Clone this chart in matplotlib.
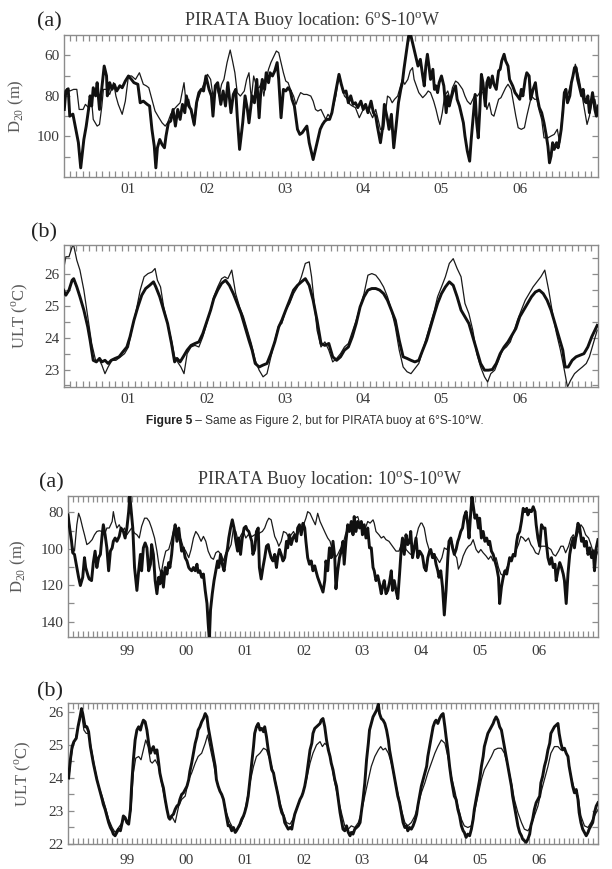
import numpy as np
import matplotlib
matplotlib.use("Agg")
import matplotlib.pyplot as plt
from matplotlib.ticker import FixedLocator, NullFormatter
from matplotlib.text import Annotation
from matplotlib import font_manager as fm

# ---------------- DATA ----------------
# Panel 1 (6S-10W) D20: thick = buoy, thin = second series
t_d20_6s_thick = [
 2000.18, 2000.20, 2000.23, 2000.25, 2000.29, 2000.32, 2000.36, 2000.39, 2000.43, 2000.46,
 2000.49, 2000.51, 2000.53, 2000.55, 2000.58, 2000.60, 2000.63, 2000.66, 2000.69, 2000.72,
 2000.73, 2000.76, 2000.79, 2000.82, 2000.85, 2000.89, 2000.92, 2000.96, 2001.00, 2001.04,
 2001.07, 2001.12, 2001.15, 2001.19, 2001.24, 2001.27, 2001.30, 2001.33, 2001.35, 2001.37,
 2001.40, 2001.43, 2001.46, 2001.48, 2001.51, 2001.54, 2001.57, 2001.60, 2001.63, 2001.66,
 2001.69, 2001.72, 2001.74, 2001.77, 2001.80, 2001.84, 2001.87, 2001.90, 2001.93, 2001.96,
 2001.99, 2002.03, 2002.06, 2002.08, 2002.11, 2002.14, 2002.18, 2002.21, 2002.24, 2002.27,
 2002.31, 2002.34, 2002.37, 2002.39, 2002.42,
 2002.46, 2002.49, 2002.52, 2002.54, 2002.56, 2002.58, 2002.61, 2002.64, 2002.67, 2002.69,
 2002.71, 2002.74, 2002.76, 2002.79, 2002.81, 2002.84, 2002.87, 2002.90, 2002.92, 2002.95,
 2002.98, 2003.01, 2003.04, 2003.07, 2003.09, 2003.12, 2003.16, 2003.19, 2003.22, 2003.25,
 2003.28, 2003.31, 2003.34, 2003.36, 2003.39, 2003.42, 2003.45, 2003.48, 2003.51, 2003.54,
 2003.57, 2003.60, 2003.63, 2003.67, 2003.69, 2003.72, 2003.75, 2003.78, 2003.81, 2003.84,
 2003.87, 2003.90, 2003.93, 2003.97, 2004.00, 2004.03, 2004.06, 2004.10, 2004.13, 2004.16,
 2004.18, 2004.22, 2004.25, 2004.27, 2004.31, 2004.33, 2004.36, 2004.39, 2004.42, 2004.45,
 2004.48, 2004.50, 2004.52, 2004.55, 2004.58, 2004.61, 2004.64, 2004.67, 2004.70, 2004.73,
 2004.76, 2004.78, 2004.80, 2004.82, 2004.84, 2004.86, 2004.89, 2004.91, 2004.93, 2004.95,
 2004.97, 2005.00, 2005.03, 2005.06, 2005.08, 2005.10, 2005.12, 2005.15, 2005.18, 2005.20,
 2005.23, 2005.25, 2005.28, 2005.30, 2005.33, 2005.36, 2005.38, 2005.41, 2005.43, 2005.45,
 2005.47, 2005.49, 2005.51, 2005.53, 2005.56, 2005.58, 2005.60, 2005.62, 2005.65, 2005.67,
 2005.70, 2005.73, 2005.75, 2005.77, 2005.80, 2005.82, 2005.85, 2005.87, 2005.89, 2005.91,
 2005.94, 2005.97, 2006.00, 2006.02, 2006.04, 2006.07, 2006.09, 2006.12, 2006.14, 2006.17,
 2006.20, 2006.22, 2006.25, 2006.28, 2006.31, 2006.34, 2006.36, 2006.38, 2006.40, 2006.42,
 2006.44, 2006.47, 2006.49, 2006.51, 2006.53, 2006.55, 2006.57, 2006.59, 2006.61, 2006.64,
 2006.66, 2006.68, 2006.70, 2006.72, 2006.74, 2006.76, 2006.79, 2006.81, 2006.83, 2006.85,
 2006.87, 2006.89, 2006.91, 2006.93, 2006.96, 2006.98, 2007.00]
d20_6s_thick = [
 86.7, 77.6, 76.5, 90, 89, 95, 103, 115.5, 101.5, 95,
 86.7, 80, 85, 76, 80, 73.5, 86.7, 76, 65.3, 70.2,
 80, 73.5, 76.8, 74.3, 77.6, 75, 76, 72.7, 70.2, 72,
 73.5, 74.3, 83.4, 82.6, 84.2, 85, 96.5, 104.8, 115.5, 105.6,
 101.5, 104, 105.6, 99.8, 93.3, 92.4, 86.7, 94.9, 86.7, 91.6,
 84.2, 88.3, 80, 85, 86.7, 94.1, 83.4, 78.4, 76.8, 77.6,
 70.2, 76.8, 80, 90, 75, 73.5, 84.2, 77.6, 85, 73.5,
 88.3, 79.3, 76.8, 90, 106.4,
 93.3, 80, 86.7, 93.3, 86.7, 80, 83.4, 71.9, 90.8, 78.4,
 71.9, 76.8, 68.6, 73.5, 68.6, 70.2, 67.7, 63.6, 71.9, 90.8,
 76.8, 77.6, 76, 77.6, 81.7, 85, 96.5, 99, 98.2, 96.5,
 94.9, 103.1, 108.1, 111.4, 106.4, 101.5, 96.5, 94.1, 92.4, 91.6,
 91.6, 88.3, 81.7, 73.5, 69.4, 74.3, 78.4, 77.6, 83.4, 80,
 84.2, 83.4, 85.8, 82.6, 86.7, 84.2, 88.3, 82.6, 88.3, 90,
 94.9, 103.1, 94.9, 84.2, 91.6, 96.5, 89.1, 105.6, 94.9, 83.4,
 76.8, 73.5, 66.9, 58.7, 50.5, 50.5, 55.4, 60.3, 65.3, 62,
 70.2, 75.1, 65.3, 59.5, 65.3, 71.9, 66.9, 76.8, 75.1, 78.4,
 73.5, 70.2, 75.1, 88.3, 80, 85, 81.7, 77.6, 75.1, 81.7,
 85, 88.3, 93.3, 99.8, 107.2, 112.2, 101.5, 88.3, 79.3, 93.3,
 100.7, 86.7, 69.4, 73.5, 85, 73.5, 71, 75.9, 70.2, 74.3,
 76.8, 67.7, 66.9, 62.8, 59.5, 62.8, 65.3, 71.9, 73.5, 75.1,
 78.4, 80, 81.7, 76.8, 80, 71.9, 68.6, 70.2, 81.7, 76.8,
 73.5, 80, 85.8, 88.3, 93.3, 99.8, 104.8, 113, 109.7, 103.1,
 106.4, 103.1, 105.6, 101.5, 96.5, 88.3, 78.4, 76.8, 83.4, 80,
 73.5, 70.2, 66.1, 66.1, 71.9, 75.1, 80, 76.8, 82.6, 83.4,
 80, 88.3, 83.4, 78.4, 86.7, 90, 85]

t_d20_6s_thin = [
 2000.18, 2000.21, 2000.25, 2000.30, 2000.34, 2000.37, 2000.42, 2000.45, 2000.49, 2000.53,
 2000.55, 2000.60, 2000.63, 2000.66, 2000.68, 2000.72, 2000.76, 2000.81, 2000.84, 2000.87,
 2000.92, 2000.96, 2001.00, 2001.04, 2001.09, 2001.14, 2001.19, 2001.23, 2001.26, 2001.30,
 2001.34, 2001.39, 2001.43, 2001.47, 2001.50, 2001.54, 2001.58, 2001.62, 2001.66, 2001.71,
 2001.74, 2001.77, 2001.80, 2001.84, 2001.88, 2001.92, 2001.96, 2002.01, 2002.05, 2002.08,
 2002.12, 2002.16, 2002.19, 2002.22, 2002.26, 2002.30, 2002.33, 2002.36, 2002.39, 2002.43,
 2002.48, 2002.51, 2002.54, 2002.57, 2002.60, 2002.64, 2002.67, 2002.70, 2002.73, 2002.76,
 2002.79, 2002.82, 2002.86, 2002.89, 2002.92, 2002.95, 2002.98, 2003.01, 2003.04, 2003.07,
 2003.11, 2003.14, 2003.17, 2003.20, 2003.24, 2003.28, 2003.33, 2003.36, 2003.39, 2003.42,
 2003.46, 2003.49, 2003.52, 2003.55, 2003.58, 2003.62, 2003.65, 2003.68, 2003.70, 2003.73,
 2003.76, 2003.80, 2003.83, 2003.86, 2003.90, 2003.95, 2003.99, 2004.03, 2004.07, 2004.12,
 2004.16, 2004.19, 2004.22, 2004.26, 2004.29, 2004.31, 2004.34, 2004.37, 2004.40, 2004.44,
 2004.47, 2004.50, 2004.53, 2004.57, 2004.60, 2004.63, 2004.65, 2004.68, 2004.71, 2004.76,
 2004.80, 2004.83, 2004.86, 2004.90, 2004.93, 2004.96, 2004.98, 2005.01, 2005.04, 2005.08,
 2005.11, 2005.14, 2005.18, 2005.21, 2005.24, 2005.27, 2005.30, 2005.33, 2005.37, 2005.40,
 2005.43, 2005.46, 2005.50, 2005.53, 2005.56, 2005.58, 2005.61, 2005.64, 2005.67, 2005.70,
 2005.73, 2005.76, 2005.79, 2005.82, 2005.85, 2005.89, 2005.92, 2005.95, 2005.98, 2006.02,
 2006.06, 2006.09, 2006.12, 2006.15, 2006.19, 2006.22, 2006.25, 2006.28, 2006.31, 2006.36,
 2006.40, 2006.44, 2006.48, 2006.51, 2006.53, 2006.56, 2006.59, 2006.61, 2006.65, 2006.68,
 2006.71, 2006.73, 2006.76, 2006.79, 2006.83, 2006.86, 2006.89, 2006.92, 2006.96, 2006.99]
d20_6s_thin = [
 80.1, 76.5, 77.6, 76.8, 76.8, 86.7, 86.7, 84.2, 85.8, 82.6,
 91.6, 94.9, 94.1, 85, 76.8, 76.8, 79.3, 73.5, 80.1, 84.2,
 89.1, 82.6, 70.2, 70.2, 71.9, 68.6, 74.3, 75.1, 76, 81.7,
 87.5, 90.8, 93.3, 94.9, 93.3, 89.1, 86.7, 85, 83.4, 73.5,
 85, 81.7, 87.5, 94.9, 82.6, 78.4, 74.3, 69.4, 71.9, 80.1,
 75.1, 80.1, 74.3, 71.9, 63.6, 57.4, 62.8, 68.6, 78.4, 80.1,
 77.6, 71.9, 68.6, 81.7, 70.2, 76, 76, 73.5, 80.1, 71.9,
 66.9, 63.6, 60.3, 57.9, 58.7, 63.6, 68.6, 72.7, 73.5, 76.8,
 80.1, 84.2, 80.9, 78.4, 79.3, 79.3, 80.1, 82.6, 86.7, 87.5,
 86.7, 89.1, 91.6, 89.1, 90.8, 85, 80.1, 71.9, 70.2, 76,
 80.1, 81.7, 84.2, 85, 85.8, 90.8, 87.5, 85, 86.7, 90.8,
 86.7, 91.6, 96.5, 96.5, 86.7, 80.1, 80.9, 83.4, 81.7, 80.1,
 76, 71.9, 74.3, 71.9, 67.7, 66.1, 71.9, 75.1, 78.4, 80.9,
 79.3, 77.6, 78.4, 82.6, 86.7, 91.6, 94.1, 88.3, 80.1, 77.6,
 81.7, 76, 72.7, 73.5, 75.1, 76.8, 80.1, 82.6, 84.2, 81.7,
 79.3, 80.1, 77.6, 78.4, 83.4, 86.7, 83.4, 89.1, 90, 85.8,
 81.7, 80.9, 78.4, 76, 74.3, 76.8, 83.4, 90, 95.7, 96.5,
 95.7, 90, 85, 80.1, 81.7, 81.7, 87.5, 91.6, 100.7, 100.7,
 99.8, 99, 96.5, 103.1, 94.9, 81.7, 78.4, 80.1, 74.3, 70.2,
 64.4, 66.9, 71.9, 78.4, 87.5, 94.1, 90, 83.4, 81.7, 88.3]

# Panel 2 (6S-10W) ULT
t_ult_6s_thick = [
 2000.17, 2000.20, 2000.24, 2000.28, 2000.30, 2000.34, 2000.38, 2000.43, 2000.48, 2000.51,
 2000.55, 2000.59, 2000.63, 2000.66, 2000.70, 2000.74, 2000.78, 2000.83, 2000.88, 2000.93,
 2000.98, 2001.02, 2001.07, 2001.12, 2001.17, 2001.22, 2001.27, 2001.32, 2001.35, 2001.40,
 2001.45, 2001.50, 2001.55, 2001.59, 2001.62, 2001.66, 2001.70, 2001.75, 2001.80, 2001.85,
 2001.90, 2001.95, 2002.00, 2002.05, 2002.09, 2002.14, 2002.19, 2002.24, 2002.29, 2002.34,
 2002.39, 2002.44, 2002.49, 2002.54, 2002.58, 2002.62, 2002.67, 2002.72, 2002.77, 2002.82,
 2002.87, 2002.92, 2002.96, 2003.01, 2003.06, 2003.11, 2003.16, 2003.21, 2003.26, 2003.31,
 2003.36, 2003.41, 2003.46, 2003.51, 2003.56, 2003.61, 2003.66, 2003.71, 2003.76, 2003.81,
 2003.86, 2003.91, 2003.96, 2004.01, 2004.06, 2004.11, 2004.16, 2004.21, 2004.26, 2004.31,
 2004.36, 2004.41, 2004.46, 2004.51, 2004.56, 2004.61, 2004.66, 2004.71, 2004.76, 2004.81,
 2004.86, 2004.91, 2004.95, 2005.00, 2005.05, 2005.10, 2005.15, 2005.20, 2005.25, 2005.30,
 2005.35, 2005.40, 2005.45, 2005.50, 2005.55, 2005.60, 2005.65, 2005.70, 2005.75, 2005.80,
 2005.85, 2005.90, 2005.95, 2006.00, 2006.05, 2006.10, 2006.15, 2006.20, 2006.25, 2006.30,
 2006.35, 2006.40, 2006.45, 2006.50, 2006.55, 2006.58, 2006.62, 2006.67, 2006.72, 2006.77,
 2006.82, 2006.87, 2006.92, 2006.97, 2006.99]
ult_6s_thick = [
 25.5, 25.34, 25.5, 25.81, 25.86, 25.6, 25.29, 24.87, 24.34, 23.92,
 23.29, 23.24, 23.35, 23.24, 23.29, 23.19, 23.29, 23.35, 23.4, 23.56,
 23.71, 24.03, 24.55, 24.97, 25.34, 25.55, 25.65, 25.76, 25.6, 25.29,
 24.87, 24.45, 23.82, 23.24, 23.35, 23.24, 23.4, 23.61, 23.76, 23.82,
 23.87, 24.13, 24.5, 24.87, 25.23, 25.5, 25.71, 25.81, 25.65, 25.39,
 25.08, 24.76, 24.34, 23.92, 23.61, 23.19, 23.08, 23.14, 23.19, 23.5,
 23.87, 24.34, 24.55, 24.87, 25.18, 25.5, 25.65, 25.76, 25.86, 25.65,
 25.18, 24.55, 23.82, 23.76, 23.82, 23.4, 23.29, 23.4, 23.61, 23.71,
 24.03, 24.45, 24.97, 25.29, 25.5, 25.55, 25.55, 25.5, 25.39, 25.18,
 24.87, 24.55, 23.92, 23.4, 23.35, 23.29, 23.24, 23.29, 23.61, 23.92,
 24.34, 24.76, 25.08, 25.39, 25.6, 25.76, 25.65, 25.29, 24.87, 24.66,
 24.45, 24.03, 23.61, 23.19, 22.98, 22.98, 23.0, 23.19, 23.5, 23.71,
 23.87, 24.08, 24.29, 24.66, 24.87, 25.08, 25.29, 25.44, 25.5, 25.39,
 25.18, 24.87, 24.45, 24.03, 23.61, 23.08, 23.08, 23.29, 23.4, 23.45,
 23.5, 23.71, 24.03, 24.29, 24.39]

t_ult_6s_thin = [
 2000.17, 2000.20, 2000.24, 2000.28, 2000.30, 2000.34, 2000.38, 2000.43, 2000.48, 2000.53,
 2000.58, 2000.63, 2000.66, 2000.70, 2000.74, 2000.79, 2000.84, 2000.90, 2000.95, 2001.00,
 2001.05, 2001.10, 2001.15, 2001.20, 2001.25, 2001.30, 2001.34, 2001.37, 2001.41, 2001.45,
 2001.50, 2001.55, 2001.59, 2001.64, 2001.67, 2001.71, 2001.75, 2001.80, 2001.85, 2001.90,
 2001.95, 2002.00, 2002.05, 2002.09, 2002.14, 2002.19, 2002.23, 2002.27, 2002.32, 2002.37,
 2002.42, 2002.47, 2002.52, 2002.57, 2002.62, 2002.67, 2002.72, 2002.77, 2002.82, 2002.87,
 2002.92, 2002.96, 2003.01, 2003.06, 2003.11, 2003.16, 2003.21, 2003.26, 2003.31, 2003.34,
 2003.38, 2003.41, 2003.46, 2003.51, 2003.56, 2003.61, 2003.66, 2003.71, 2003.76, 2003.81,
 2003.86, 2003.91, 2003.96, 2004.01, 2004.06, 2004.11, 2004.16, 2004.21, 2004.26, 2004.31,
 2004.36, 2004.41, 2004.46, 2004.51, 2004.56, 2004.61, 2004.66, 2004.71, 2004.76, 2004.81,
 2004.86, 2004.91, 2004.95, 2005.00, 2005.05, 2005.10, 2005.15, 2005.20, 2005.25, 2005.30,
 2005.35, 2005.40, 2005.45, 2005.50, 2005.55, 2005.59, 2005.63, 2005.68, 2005.73, 2005.78,
 2005.83, 2005.88, 2005.93, 2005.97, 2006.02, 2006.07, 2006.12, 2006.17, 2006.22, 2006.27,
 2006.32, 2006.37, 2006.42, 2006.47, 2006.52, 2006.57, 2006.61, 2006.65, 2006.70, 2006.75,
 2006.80, 2006.85, 2006.89, 2006.94, 2006.99]
ult_6s_thin = [
 26.13, 26.55, 26.55, 26.86, 26.91, 26.44, 26.13, 25.5, 24.66, 23.82,
 23.29, 23.29, 23.14, 22.87, 23.08, 23.29, 23.29, 23.4, 23.5, 23.71,
 24.34, 24.87, 25.5, 25.92, 26.02, 26.07, 26.18, 25.81, 25.6, 24.97,
 24.45, 23.92, 23.4, 23.19, 23.08, 22.87, 23.5, 23.71, 23.76, 23.71,
 24.03, 24.45, 24.87, 25.29, 25.6, 25.86, 25.92, 25.86, 26.13, 25.39,
 24.97, 24.66, 24.24, 23.82, 23.29, 22.98, 22.77, 22.87, 23.4, 23.92,
 24.39, 24.45, 24.87, 25.08, 25.39, 25.6, 25.92, 26.34, 26.39, 25.92,
 24.97, 24.24, 23.71, 23.87, 23.61, 23.24, 23.35, 23.5, 23.71, 23.82,
 24.18, 24.55, 24.97, 25.39, 25.97, 26.02, 25.97, 25.81, 25.6, 25.29,
 24.87, 24.34, 23.61, 23.08, 22.93, 22.87, 23.03, 23.19, 23.61, 24.03,
 24.45, 24.87, 25.29, 25.6, 25.92, 26.34, 26.49, 26.18, 25.92, 25.08,
 24.76, 24.24, 23.5, 23.08, 22.77, 22.61, 22.87, 22.98, 23.29, 23.61,
 23.71, 23.87, 24.24, 24.55, 24.87, 25.18, 25.39, 25.6, 25.76, 25.92,
 26.13, 25.5, 24.76, 24.13, 23.61, 22.98, 22.45, 22.66, 22.87, 22.98,
 23.08, 23.19, 23.4, 23.82, 24.24]

# Panel 3 (10S-10W) D20
t_d20_10s_thick = [
 1998.00, 1998.02, 1998.06, 1998.08, 1998.11, 1998.15, 1998.18, 1998.21, 1998.25, 1998.28,
 1998.30, 1998.34, 1998.36, 1998.40, 1998.43, 1998.46, 1998.49, 1998.52, 1998.55, 1998.58,
 1998.60, 1998.63, 1998.66, 1998.69, 1998.72, 1998.75, 1998.77, 1998.80, 1998.83, 1998.87,
 1998.90, 1998.94, 1998.97, 1999.00, 1999.03, 1999.05, 1999.07, 1999.10, 1999.13, 1999.17,
 1999.20, 1999.23, 1999.25, 1999.28, 1999.31, 1999.34, 1999.37, 1999.40, 1999.42, 1999.45,
 1999.48, 1999.51, 1999.54, 1999.56, 1999.59, 1999.62, 1999.65, 1999.68, 1999.71, 1999.73,
 1999.76, 1999.79, 1999.82, 1999.85, 1999.88, 1999.90, 1999.93, 1999.96, 1999.99, 2000.02,
 2000.05, 2000.07, 2000.10, 2000.13, 2000.16, 2000.19, 2000.21, 2000.24, 2000.27, 2000.30,
 2000.33, 2000.36, 2000.38, 2000.40, 2000.42, 2000.45, 2000.48, 2000.51, 2000.54, 2000.56,
 2000.59, 2000.62, 2000.65, 2000.68, 2000.71, 2000.73, 2000.76, 2000.79, 2000.82, 2000.85,
 2000.88, 2000.90, 2000.93, 2000.96, 2000.99, 2001.02, 2001.04, 2001.07, 2001.12,
 2001.14, 2001.17, 2001.20, 2001.23, 2001.25, 2001.28, 2001.31, 2001.34, 2001.37, 2001.40,
 2001.42, 2001.45, 2001.48, 2001.51, 2001.54, 2001.56, 2001.59, 2001.62, 2001.65, 2001.68,
 2001.71, 2001.73, 2001.76, 2001.79, 2001.82, 2001.85, 2001.88, 2001.90, 2001.93, 2001.96,
 2001.99, 2002.02, 2002.04, 2002.07, 2002.10, 2002.13, 2002.16, 2002.19, 2002.21, 2002.24,
 2002.27, 2002.30, 2002.33, 2002.36, 2002.38, 2002.41, 2002.44, 2002.47, 2002.50, 2002.53,
 2002.55, 2002.58, 2002.61, 2002.64, 2002.67, 2002.69, 2002.72, 2002.75, 2002.78, 2002.81,
 2002.84, 2002.86, 2002.89, 2002.92, 2002.95, 2002.98, 2003.00, 2003.03, 2003.06, 2003.09,
 2003.12, 2003.15, 2003.18, 2003.20, 2003.23, 2003.26, 2003.29, 2003.32, 2003.34, 2003.37,
 2003.40, 2003.43, 2003.46, 2003.49, 2003.51, 2003.54, 2003.57, 2003.60, 2003.63, 2003.66,
 2003.68, 2003.71, 2003.74, 2003.77, 2003.80, 2003.82, 2003.85, 2003.88, 2003.91, 2003.94,
 2003.97,
 2003.99, 2004.02, 2004.05, 2004.08, 2004.11, 2004.14, 2004.16, 2004.19, 2004.22, 2004.25,
 2004.28, 2004.30, 2004.33, 2004.36, 2004.39, 2004.42, 2004.45, 2004.47, 2004.50, 2004.53,
 2004.56, 2004.59, 2004.62, 2004.64, 2004.67, 2004.70, 2004.73, 2004.76, 2004.79, 2004.81,
 2004.84, 2004.86, 2004.88, 2004.91, 2004.94, 2004.97, 2004.99, 2005.02, 2005.05, 2005.08,
 2005.11, 2005.14, 2005.16, 2005.19, 2005.22, 2005.25, 2005.28, 2005.31, 2005.33, 2005.36,
 2005.39, 2005.42, 2005.45, 2005.47, 2005.50, 2005.53, 2005.56, 2005.59, 2005.62, 2005.64,
 2005.67, 2005.70, 2005.73, 2005.76, 2005.79, 2005.81, 2005.84, 2005.87, 2005.90, 2005.93,
 2005.95, 2005.98, 2006.01, 2006.04, 2006.07, 2006.10, 2006.12, 2006.15, 2006.18, 2006.21,
 2006.24, 2006.27, 2006.29, 2006.32, 2006.35, 2006.38, 2006.41, 2006.43, 2006.46, 2006.49,
 2006.52, 2006.55, 2006.58, 2006.60, 2006.63, 2006.66, 2006.69, 2006.72, 2006.75, 2006.77,
 2006.80, 2006.83, 2006.86, 2006.89, 2006.92, 2006.94, 2006.97, 2007.00]
d20_10s_thick = [
 81.4, 86.8, 95.9, 102.2, 103.1, 110.3, 115.7, 120.2, 115.7, 104.9,
 110.3, 114.8, 116.6, 117.5, 107.6, 101.3, 110.3, 104.9, 103.1, 92.3,
 86.8, 92.3, 99.5, 112.1, 101.3, 99.5, 95.9, 94.1, 95.9, 93.2,
 88.6, 90.5, 94.1, 88.6, 79.6, 71, 77.8, 88.6, 110.3, 122.9,
 112.1, 103.1, 112.1, 99.5, 96.8, 99.5, 112.1, 108.5, 97.7, 103.1,
 117.5, 124.7, 115.7, 119.3, 112.1, 121.1, 110.3, 113.9, 107.6, 110.3,
 103.1, 92.3, 86.8, 95.9, 88.6, 94.1, 101.3, 99.5, 104.9, 106.7,
 110.3, 111.2, 112.1, 110.3, 112.1, 108.5, 113, 112.1, 115.7, 113.9,
 122.9, 130.1, 140.9, 150, 133.7, 124.7, 117.5, 112.1, 106.7, 110.3,
 103.1, 108.5, 112.1, 104.9, 99.5, 94.1, 88.6, 84.1, 88.6, 95.9,
 101.3, 94.1, 103.1, 94.1, 88.6, 87.7, 89.5, 90.5, 95.9,
 103.1, 100.4, 90.5, 88.6, 110.3, 116.6, 110.3, 104.9, 98.6, 97.7,
 101.3, 104.9, 106.7, 103.1, 110.3, 104.9, 100.4, 103.1, 106.7, 104.9,
 95.9, 99.5, 92.3, 97.7, 94.1, 92.3, 95.9, 88.6, 86.8, 92.3,
 86, 88.6, 95.9, 104.9, 108.5, 106.7, 112.1, 109.4, 112.1, 115.7,
 118.4, 121.1, 123.8, 117.5, 106.7, 112.1, 99.5, 104.9, 95.9, 104.9,
 122, 112.1, 104.9, 101.3, 95.9, 108.5, 95.9, 86.8, 90.5, 85,
 92.3, 82.3, 90.5, 85, 88.6, 85, 92.3, 86.8, 94.1, 88.6,
 99.5, 99.5, 110.3, 112.1, 117.5, 114.8, 119.3, 124.7, 121.1, 117.5,
 124.7, 122.9, 118.4, 112.1, 122.9, 117.5, 122.9, 127.4, 113.9, 99.5,
 94.1, 103.1, 92.3, 97.7, 95.9, 90.5, 104.9, 99.5, 94.1, 104.9,
 101.3,
 102.2, 104, 110.3, 112.1, 104.9, 101.3, 100.4, 104.9, 103.1, 108.5,
 112.1, 115.7, 112.1, 121.1, 136.4, 122.9, 104.9, 95.9, 94.1, 99.5,
 103.1, 100.4, 95.9, 94.1, 90.5, 88.6, 82.3, 79.6, 86.8, 94.1,
 79.6, 71.5, 76, 83.2, 81.4, 88.6, 83.2, 94.1, 90.5, 95.9,
 94.1, 97.7, 95.9, 101.3, 103.1, 106.7, 110.3, 115.7, 130.1, 121.1,
 115.7, 112.1, 113.9, 110.3, 104.9, 106.7, 103.1, 104, 95.9, 92.3,
 90.5, 85, 77.8, 79.6, 77.8, 81.4, 78.7, 79.6, 76.9, 79.6,
 86.8, 94.1, 98.6, 86.8, 88.6, 88.6, 95.9, 104.9, 108.5, 104.9,
 110.3, 108.5, 117.5, 112.1, 107.6, 110.3, 113.9, 117.5, 130.1, 113.9,
 103.1, 97.7, 94.1, 99.5, 92.3, 86, 88.6, 95.9, 94.1, 98.6,
 95.9, 103.1, 99.5, 104.9, 101.3, 112.1, 99.5, 95]

t_d20_10s_thin = [
 1998.00, 1998.04, 1998.08, 1998.11, 1998.15, 1998.18, 1998.21, 1998.25, 1998.28, 1998.32,
 1998.36, 1998.41, 1998.45, 1998.49, 1998.53, 1998.58, 1998.62, 1998.66, 1998.70, 1998.75,
 1998.77, 1998.80, 1998.83, 1998.87, 1998.92, 1998.96, 1999.00, 1999.04, 1999.08, 1999.13,
 1999.17, 1999.21, 1999.25, 1999.30, 1999.34, 1999.38, 1999.42, 1999.47, 1999.51, 1999.55,
 1999.58, 1999.62, 1999.66, 1999.71, 1999.75, 1999.79, 1999.83, 1999.88, 1999.92, 1999.96,
 2000.00, 2000.05, 2000.09, 2000.13, 2000.17, 2000.21, 2000.26, 2000.30, 2000.34, 2000.38,
 2000.43, 2000.47, 2000.51, 2000.55, 2000.60, 2000.64, 2000.68, 2000.72, 2000.77, 2000.81,
 2000.85, 2000.89, 2000.94, 2000.98, 2001.02, 2001.06, 2001.12,
 2001.13, 2001.17, 2001.21, 2001.25, 2001.30, 2001.34, 2001.38, 2001.41, 2001.45, 2001.48,
 2001.51, 2001.55, 2001.58, 2001.62, 2001.66, 2001.71, 2001.75, 2001.79, 2001.83, 2001.88,
 2001.92, 2001.96, 2002.00, 2002.04, 2002.07, 2002.11, 2002.16, 2002.20, 2002.24, 2002.28,
 2002.33, 2002.37, 2002.41, 2002.45, 2002.50, 2002.54, 2002.58, 2002.62, 2002.67, 2002.71,
 2002.75, 2002.79, 2002.84, 2002.88, 2002.92, 2002.96, 2003.00, 2003.05, 2003.09, 2003.13,
 2003.18, 2003.20, 2003.23, 2003.28, 2003.32, 2003.36, 2003.40, 2003.45, 2003.49, 2003.53,
 2003.57, 2003.62, 2003.66, 2003.69, 2003.74, 2003.79, 2003.82, 2003.86, 2003.91, 2003.95,
 2003.99,
 2004.01, 2004.05, 2004.09, 2004.14, 2004.18, 2004.22, 2004.26, 2004.31, 2004.35, 2004.39,
 2004.43, 2004.47, 2004.52, 2004.56, 2004.60, 2004.63, 2004.67, 2004.71, 2004.76, 2004.80,
 2004.84, 2004.88, 2004.93, 2004.97, 2005.01, 2005.05, 2005.10, 2005.14, 2005.18, 2005.22,
 2005.27, 2005.31, 2005.35, 2005.39, 2005.44, 2005.48, 2005.52, 2005.56, 2005.60, 2005.65,
 2005.69, 2005.73, 2005.77, 2005.82, 2005.86, 2005.90, 2005.94, 2005.99, 2006.03, 2006.07,
 2006.11, 2006.16, 2006.20, 2006.24, 2006.28, 2006.33, 2006.37, 2006.41, 2006.45, 2006.50,
 2006.54, 2006.58, 2006.62, 2006.67, 2006.71, 2006.75, 2006.79, 2006.84, 2006.88, 2006.92,
 2006.96, 2007.00]
d20_10s_thin = [
 79.6, 90.5, 99.5, 101.3, 86.8, 80.5, 83.2, 88.6, 92.3, 97.7,
 96.8, 95, 92.3, 90.5, 90.1, 90.5, 92.3, 88.6, 88.6, 85,
 79.6, 85, 88.6, 86.8, 90.5, 88.6, 92.3, 90.5, 88.6, 91.4,
 92.3, 94.1, 87.7, 83.2, 83.2, 85, 88.6, 94.1, 101.3, 110.3,
 113.9, 106.7, 101.3, 100.4, 95.9, 90.5, 88.6, 92.3, 95, 99.5,
 101.3, 104.9, 100.4, 94.1, 90.5, 92.3, 95.9, 93.2, 95.9, 101.3,
 104.9, 105.8, 102.2, 101.3, 103.1, 106.7, 102.2, 101.3, 97.7, 88.6,
 90.5, 95.9, 92.3, 90.5, 94.1, 92.3, 93.2,
 93.2, 92.3, 93.2, 91.4, 90.5, 88.6, 85, 83.2, 84.1, 88.6,
 93.2, 95.9, 98.6, 95.9, 90.5, 91.4, 94.1, 92.3, 90.5, 94.1,
 90.5, 88.6, 86.8, 83.2, 79.6, 80.5, 84.1, 86.8, 80.5, 85,
 88.6, 91.4, 94.1, 95.9, 102.2, 104.9, 103.1, 100.4, 97.7, 92.3,
 88.6, 86.8, 85.9, 83.2, 82.3, 86.8, 89.5, 88.6, 85, 85.9,
 84.1, 85.9, 90.5, 92.3, 94.1, 93.2, 95, 95.9, 97.7, 99.5,
 101.3, 101.3, 97.7, 95.9, 100.4, 102.2, 103.1, 102.2, 94.1, 88.6,
 85.9,
 85.9, 88.6, 95.9, 101.3, 102.2, 103.1, 104.9, 107.6, 104.9, 99.5,
 100.4, 97.7, 95.9, 103.1, 104.9, 111.2, 108.5, 104, 100.4, 98.6,
 97.7, 95, 100.4, 102.2, 100.4, 102.2, 104, 105.8, 104, 106.7,
 104.9, 110.3, 113.9, 114.8, 111.2, 108.5, 104.9, 104, 101.3, 97.7,
 93.2, 94.1, 95.9, 94.1, 97.7, 99.5, 102.2, 103.1, 98.6, 98.6,
 98.6, 99.5, 100.4, 103.1, 104, 101.3, 98.6, 98.6, 102.2, 98.6,
 94.1, 92.3, 95, 90.5, 86.8, 88.6, 92.3, 94.1, 97.7, 102.2,
 104.9, 101.3]

# Panel 4 (10S-10W) ULT
t_ult_10s_thick = [
 1998.01, 1998.04, 1998.07, 1998.10, 1998.14, 1998.17, 1998.21, 1998.23, 1998.25, 1998.27, 1998.29,
 1998.32, 1998.35, 1998.38, 1998.41, 1998.43, 1998.46, 1998.49, 1998.52, 1998.55, 1998.58,
 1998.60, 1998.63, 1998.66, 1998.69, 1998.72, 1998.75, 1998.77, 1998.80, 1998.83, 1998.86,
 1998.89, 1998.92, 1998.94, 1998.97, 1999.00, 1999.03, 1999.06, 1999.08, 1999.11, 1999.14,
 1999.17, 1999.20, 1999.23, 1999.25, 1999.28, 1999.31, 1999.34, 1999.37, 1999.40, 1999.42,
 1999.45, 1999.48, 1999.51, 1999.54, 1999.56, 1999.59, 1999.62, 1999.65, 1999.68, 1999.71,
 1999.73, 1999.76, 1999.79, 1999.82, 1999.85, 1999.88, 1999.90, 1999.93, 1999.96, 1999.99,
 2000.02, 2000.05, 2000.07, 2000.10, 2000.13, 2000.16, 2000.19, 2000.21, 2000.24, 2000.27,
 2000.30, 2000.33, 2000.36, 2000.38, 2000.41, 2000.44, 2000.47, 2000.50, 2000.52, 2000.55,
 2000.58, 2000.61, 2000.64, 2000.67, 2000.69, 2000.72, 2000.75, 2000.78, 2000.81, 2000.84,
 2000.86, 2000.89, 2000.92, 2000.95, 2000.98, 2001.00, 2001.03, 2001.06, 2001.09, 2001.12,
 2001.15, 2001.17, 2001.20, 2001.23, 2001.26, 2001.29, 2001.32, 2001.34, 2001.37, 2001.40,
 2001.43, 2001.46, 2001.49, 2001.51, 2001.54, 2001.57, 2001.60, 2001.63, 2001.66, 2001.68,
 2001.71, 2001.74, 2001.77, 2001.80, 2001.82, 2001.85, 2001.88, 2001.91, 2001.94, 2001.97,
 2001.99, 2002.02, 2002.05, 2002.08, 2002.11, 2002.14, 2002.16, 2002.19, 2002.22, 2002.25,
 2002.28, 2002.30, 2002.33, 2002.36, 2002.39, 2002.42, 2002.45, 2002.47,
 2002.50, 2002.53, 2002.56, 2002.59, 2002.62, 2002.65, 2002.67, 2002.70, 2002.73, 2002.76,
 2002.79, 2002.81, 2002.84, 2002.87, 2002.90, 2002.93, 2002.96, 2002.98, 2003.01, 2003.04,
 2003.07, 2003.10, 2003.12, 2003.15, 2003.18, 2003.21, 2003.24, 2003.27, 2003.29, 2003.32,
 2003.35, 2003.38, 2003.41, 2003.44, 2003.46, 2003.49, 2003.52, 2003.55, 2003.58, 2003.60,
 2003.63, 2003.66, 2003.69, 2003.72, 2003.75, 2003.77, 2003.80, 2003.83, 2003.86, 2003.89,
 2003.92, 2003.94, 2003.97, 2004.00, 2004.03, 2004.06, 2004.09, 2004.11, 2004.14, 2004.17,
 2004.20, 2004.23, 2004.25, 2004.28, 2004.31, 2004.34, 2004.37, 2004.40, 2004.42, 2004.45,
 2004.48, 2004.51, 2004.54, 2004.56, 2004.59, 2004.62, 2004.65, 2004.68, 2004.71, 2004.73,
 2004.76, 2004.79, 2004.82, 2004.85, 2004.88, 2004.90, 2004.93, 2004.96, 2004.99, 2005.02,
 2005.05, 2005.07, 2005.10, 2005.13, 2005.16, 2005.19, 2005.22, 2005.24, 2005.27, 2005.30,
 2005.33, 2005.36, 2005.38, 2005.41, 2005.44, 2005.47, 2005.50, 2005.53, 2005.55, 2005.58,
 2005.61, 2005.64, 2005.67, 2005.70, 2005.72, 2005.75, 2005.78, 2005.81, 2005.84, 2005.86,
 2005.89, 2005.92, 2005.95, 2005.98, 2006.01, 2006.03, 2006.06, 2006.09, 2006.12, 2006.15,
 2006.18, 2006.20, 2006.23, 2006.26, 2006.29, 2006.32, 2006.34, 2006.37, 2006.40, 2006.43,
 2006.46, 2006.49, 2006.51, 2006.54, 2006.57, 2006.60, 2006.63, 2006.66, 2006.68, 2006.71,
 2006.74, 2006.77, 2006.80, 2006.83, 2006.85, 2006.88, 2006.91, 2006.94, 2006.97, 2007.00]
ult_10s_thick = [
 24.0, 24.55, 24.95, 25.1, 25.2, 25.55, 25.9, 26.1, 25.95, 25.75, 25.55,
 25.55, 25.4, 24.95, 24.65, 24.45, 24.2, 23.95, 23.75, 23.55, 23.35,
 23.2, 23.05, 22.85, 22.65, 22.5, 22.4, 22.3, 22.25, 22.35, 22.45,
 22.4, 22.65, 22.85, 22.8, 22.65, 22.6, 23.05, 23.75, 24.55, 25.15,
 25.45, 25.55, 25.45, 25.6, 25.75, 25.7, 25.45, 25.05, 24.75, 24.85,
 24.95, 24.75, 24.85, 24.45, 24.15, 23.9, 23.7, 23.35, 23.05, 22.8,
 22.75, 22.85, 22.9, 23.05, 23.15, 23.2, 23.35, 23.5, 23.55, 23.65,
 23.75, 23.95, 24.2, 24.45, 24.75, 25.05, 25.25, 25.45, 25.55, 25.7,
 25.8, 25.95, 25.85, 25.55, 25.25, 24.95, 24.65, 24.35, 23.95, 23.75,
 23.6, 23.5, 23.35, 23.05, 22.85, 22.55, 22.55, 22.4, 22.5, 22.35,
 22.4, 22.5, 22.6, 22.75, 22.85, 22.95, 23.15, 23.45, 23.95, 24.45,
 24.95, 25.35, 25.55, 25.65, 25.45, 25.5, 25.4, 25.55, 25.25, 24.85,
 24.55, 24.25, 24.15, 23.95, 23.7, 23.45, 23.15, 22.95, 22.85, 22.65,
 22.55, 22.45, 22.5, 22.45, 22.65, 22.9, 23.05, 23.2, 23.35, 23.45,
 23.55, 23.75, 24.05, 24.45, 24.85, 25.05, 25.35, 25.5, 25.55, 25.6,
 25.65, 25.75, 25.8, 25.55, 25.15, 24.85, 24.65, 24.45,
 24.25, 23.95, 23.75, 23.35, 22.95, 22.65, 22.45, 22.4, 22.55, 22.35,
 22.25, 22.35, 22.3, 22.45, 22.5, 22.55, 22.65, 22.95, 23.35, 23.85,
 24.55, 25.05, 25.45, 25.65, 25.85, 25.95, 26.05, 26.23, 25.95, 25.8,
 25.75, 25.65, 25.45, 25.15, 24.85, 24.55, 24.25, 23.95, 23.65, 23.45,
 23.25, 22.95, 22.65, 22.5, 22.55, 22.4, 22.5, 22.45, 22.55, 22.7,
 22.9, 23.15, 23.45, 23.75, 23.95, 24.15, 24.35, 24.65, 24.95, 25.25,
 25.55, 25.7, 25.75, 25.65, 25.8, 25.9, 25.95, 25.55, 25.25, 24.85,
 24.35, 23.95, 23.65, 23.45, 23.35, 23.05, 22.85, 22.55, 22.4, 22.35,
 22.2, 22.3, 22.25, 22.45, 22.75, 23.05, 23.35, 23.65, 23.95, 24.35,
 24.65, 24.95, 25.15, 25.35, 25.45, 25.55, 25.65, 25.75, 25.85, 25.75,
 25.55, 25.45, 25.25, 24.95, 24.65, 24.35, 24.05, 23.75, 23.45, 23.15,
 22.85, 22.55, 22.35, 22.25, 22.15, 22.1, 22.05, 22.15, 22.3, 22.55,
 22.75, 23.05, 23.25, 23.35, 23.45, 23.85, 24.05, 24.35, 24.55, 24.85,
 25.05, 25.35, 25.45, 25.55, 25.6, 25.65, 25.35, 25.05, 24.85, 24.9,
 24.75, 24.65, 24.35, 24.05, 23.75, 23.55, 23.65, 23.35, 22.95, 22.65,
 22.45, 22.35, 22.25, 22.35, 22.45, 22.55, 22.65, 22.95, 23.15, 23.25]

t_ult_10s_thin = [
 1998.01, 1998.07, 1998.12, 1998.18, 1998.23, 1998.27, 1998.31, 1998.35, 1998.41, 1998.46,
 1998.52, 1998.58, 1998.63, 1998.69, 1998.75, 1998.80, 1998.86, 1998.92, 1998.97, 1999.03,
 1999.07, 1999.11, 1999.15, 1999.20, 1999.24, 1999.28, 1999.32, 1999.36, 1999.40, 1999.43,
 1999.48, 1999.54, 1999.59, 1999.65, 1999.71, 1999.76, 1999.82, 1999.88, 1999.93, 1999.99,
 2000.05, 2000.10, 2000.16, 2000.21, 2000.27, 2000.33, 2000.37, 2000.41, 2000.47, 2000.52,
 2000.58, 2000.64, 2000.69, 2000.75, 2000.81, 2000.86, 2000.92, 2000.98, 2001.03, 2001.09,
 2001.15, 2001.20, 2001.26, 2001.32, 2001.37, 2001.43, 2001.49, 2001.54, 2001.60, 2001.66,
 2001.71, 2001.77, 2001.82, 2001.88, 2001.94, 2001.99, 2002.05, 2002.11, 2002.16, 2002.22,
 2002.28, 2002.32, 2002.36, 2002.42, 2002.47,
 2002.53, 2002.59, 2002.65, 2002.70, 2002.76, 2002.81, 2002.87, 2002.93, 2002.98, 2003.04,
 2003.10, 2003.15, 2003.21, 2003.27, 2003.31, 2003.35, 2003.39, 2003.44, 2003.49, 2003.55,
 2003.60, 2003.66, 2003.72, 2003.77, 2003.83, 2003.89, 2003.94, 2004.00, 2004.06, 2004.11,
 2004.17, 2004.23, 2004.28, 2004.34, 2004.40, 2004.45, 2004.51, 2004.57, 2004.62, 2004.68,
 2004.73, 2004.79, 2004.85, 2004.90, 2004.96, 2005.02, 2005.07, 2005.13, 2005.19, 2005.24,
 2005.30, 2005.36, 2005.41, 2005.47, 2005.53, 2005.58, 2005.64, 2005.70, 2005.75, 2005.81,
 2005.86, 2005.92, 2005.98, 2006.03, 2006.09, 2006.15, 2006.20, 2006.26, 2006.32, 2006.37,
 2006.43, 2006.49, 2006.54, 2006.60, 2006.66, 2006.71, 2006.77, 2006.83, 2006.88, 2006.94,
 2007.00]
ult_10s_thin = [
 23.95, 24.85, 25.15, 25.6, 25.95, 25.45, 25.35, 25.35, 24.75, 24.25,
 23.75, 23.45, 23.15, 22.75, 22.5, 22.35, 22.5, 22.65, 22.8, 22.65,
 23.05, 24.15, 24.6, 24.65, 24.55, 24.85, 25.15, 24.95, 24.5, 24.45,
 24.55, 24.35, 23.85, 23.3, 22.8, 22.85, 22.65, 23.15, 23.35, 23.45,
 23.95, 24.15, 24.45, 24.65, 24.75, 25.05, 25.3, 24.95, 24.45, 23.95,
 23.6, 23.35, 22.95, 22.65, 22.45, 22.4, 22.55, 22.8, 23.25, 23.85,
 24.35, 24.65, 24.75, 24.9, 24.85, 24.55, 24.15, 23.75, 23.25, 22.9,
 22.65, 22.6, 22.75, 23.05, 23.35, 23.55, 23.95, 24.45, 24.75, 25.0,
 25.1, 24.95, 25.05, 24.95, 24.45,
 23.85, 23.35, 22.9, 22.55, 22.45, 22.55, 22.5, 22.65, 22.95, 23.45,
 23.95, 24.35, 24.65, 24.85, 24.95, 24.85, 24.9, 24.75, 24.45, 23.95,
 23.55, 23.05, 22.65, 22.55, 22.65, 22.85, 23.15, 23.55, 23.85, 24.15,
 24.45, 24.75, 24.95, 25.15, 25.05, 24.65, 24.05, 23.6, 23.15, 22.75,
 22.55, 22.5, 22.55, 22.95, 23.45, 23.95, 24.25, 24.45, 24.65, 24.85,
 24.9, 24.9, 24.75, 24.35, 23.85, 23.35, 22.95, 22.65, 22.45, 22.4,
 22.55, 22.85, 23.15, 23.55, 23.95, 24.35, 24.75, 24.95, 24.95, 24.85,
 24.85, 24.65, 24.05, 23.65, 23.45, 22.85, 22.55, 22.5, 22.65, 22.85,
 23.05]

years_top = [2001, 2002, 2003, 2004, 2005, 2006]
years_bottom = [1999, 2000, 2001, 2002, 2003, 2004, 2005, 2006]
year_labels_top = ["01", "02", "03", "04", "05", "06"]
year_labels_bottom = ["99", "00", "01", "02", "03", "04", "05", "06"]

# ---------------- STYLE ----------------
plt.rcParams['font.family'] = ['Liberation Serif', 'DejaVu Serif']
names = {f.name for f in fm.fontManager.ttflist}
cap_family = ['Liberation Sans Narrow', 'DejaVu Sans'] if 'Liberation Sans Narrow' in names else ['Liberation Sans', 'DejaVu Sans']
cap_size = 10 if 'Liberation Sans Narrow' in names else 8.6

FRAME = '#8c8c8c'
TXT = '#3a3a3a'
LBL = '#5a5a5a'
W, H = 612.0, 869.0

fig = plt.figure(figsize=(6.12, 8.69), dpi=100)


def make_ax(left, top, right, bottom):
    return fig.add_axes([left / W, 1 - bottom / H, (right - left) / W, (bottom - top) / H])


ax1 = make_ax(63.5, 35, 598, 177)
ax2 = make_ax(63.5, 245, 598, 387)
ax3 = make_ax(68, 496, 598, 637)
ax4 = make_ax(68, 703, 598, 844)


def style(ax, xlim, years, ylabels_tick, ymajor, yminor, ylim, ylabel, labx, padx):
    ax.set_xlim(*xlim)
    ax.set_ylim(*ylim)
    for s in ax.spines.values():
        s.set_color(FRAME)
        s.set_linewidth(1.0)
    ax.xaxis.set_major_locator(FixedLocator(years))
    ax.set_xticklabels(ylabels_tick)
    months = np.arange(np.floor(xlim[0]), xlim[1] + 1e-6, 1 / 12.0)
    months = [m for m in months if xlim[0] + 0.01 < m < xlim[1] - 0.01]
    ax.xaxis.set_minor_locator(FixedLocator(months))
    ax.yaxis.set_major_locator(FixedLocator(ymajor))
    ax.yaxis.set_minor_locator(FixedLocator(yminor))
    ax.tick_params(axis='both', which='both', direction='in', top=True, right=True,
                   color=FRAME, width=0.9, labelcolor=TXT, labelsize=11)
    ax.tick_params(axis='x', which='both', length=4.5, pad=padx)
    ax.tick_params(axis='y', which='both', length=4, pad=3)
    ax.set_ylabel(ylabel, fontsize=12, color=LBL)
    ax.yaxis.set_label_coords(labx, 0.5)


xl_top = (2000.17, 2007.0)
xl_bot = (1998.0, 2007.0)

ax1.plot(t_d20_6s_thin, d20_6s_thin, color='#1a1a1a', lw=0.9, zorder=2)
ax1.plot(t_d20_6s_thick, d20_6s_thick, color='#111111', lw=2.1, zorder=3)
style(ax1, xl_top, years_top, year_labels_top, [60, 80, 100], [70, 90, 110],
      (120, 50), r'D$_{\mathregular{20}}$ (m)', -0.07, 4)

ax2.plot(t_ult_6s_thin, ult_6s_thin, color='#1a1a1a', lw=0.9, zorder=2)
ax2.plot(t_ult_6s_thick, ult_6s_thick, color='#111111', lw=2.1, zorder=3)
style(ax2, xl_top, years_top, year_labels_top, [23, 24, 25, 26], [22.5, 23.5, 24.5, 25.5, 26.5],
      (22.45, 26.92), r'ULT ($^{\mathregular{o}}$C)', -0.062, 4)

ax3.plot(t_d20_10s_thin, d20_10s_thin, color='#1a1a1a', lw=0.9, zorder=2)
ax3.plot(t_d20_10s_thick, d20_10s_thick, color='#111111', lw=2.1, zorder=3)
style(ax3, xl_bot, years_bottom, year_labels_bottom, [80, 100, 120, 140], [90, 110, 130],
      (148.5, 71), r'D$_{\mathregular{20}}$ (m)', -0.076, 5.5)

ax4.plot(t_ult_10s_thin, ult_10s_thin, color='#1a1a1a', lw=0.9, zorder=2)
ax4.plot(t_ult_10s_thick, ult_10s_thick, color='#111111', lw=2.1, zorder=3)
style(ax4, xl_bot, years_bottom, year_labels_bottom, [22, 23, 24, 25, 26], [22.5, 23.5, 24.5, 25.5],
      (22.0, 26.27), r'ULT ($^{\mathregular{o}}$C)', -0.066, 7)

# panel letters and titles
fig.text(37 / W, 1 - 22 / H, '(a)', fontsize=16, color='#222222', ha='left', va='center')
fig.text(312 / W, 1 - 21 / H, r'PIRATA Buoy location: 6$^{\mathregular{o}}$S-10$^{\mathregular{o}}$W',
         fontsize=13, color=TXT, ha='center', va='center')
fig.text(31 / W, 1 - 233 / H, '(b)', fontsize=16, color='#222222', ha='left', va='center')
fig.text(39 / W, 1 - 483 / H, '(a)', fontsize=16, color='#222222', ha='left', va='center')
fig.text(330 / W, 1 - 480 / H, r'PIRATA Buoy location: 10$^{\mathregular{o}}$S-10$^{\mathregular{o}}$W',
         fontsize=13, color=TXT, ha='center', va='center')
fig.text(37 / W, 1 - 692 / H, '(b)', fontsize=16, color='#222222', ha='left', va='center')

# caption
cap1 = fig.text(146 / W, 1 - 421 / H, 'Figure 5', family=cap_family, fontsize=cap_size,
                fontweight='bold', color='#222222', ha='left', va='center')
cap2 = Annotation(' \u2013 Same as Figure 2, but for PIRATA buoy at 6\u00b0S-10\u00b0W.',
                  xy=(1, 0.5), xycoords=cap1, ha='left', va='center',
                  family=cap_family, fontsize=cap_size, color='#333333')
fig.add_artist(cap2)

fig.savefig('out.png', dpi=100)
